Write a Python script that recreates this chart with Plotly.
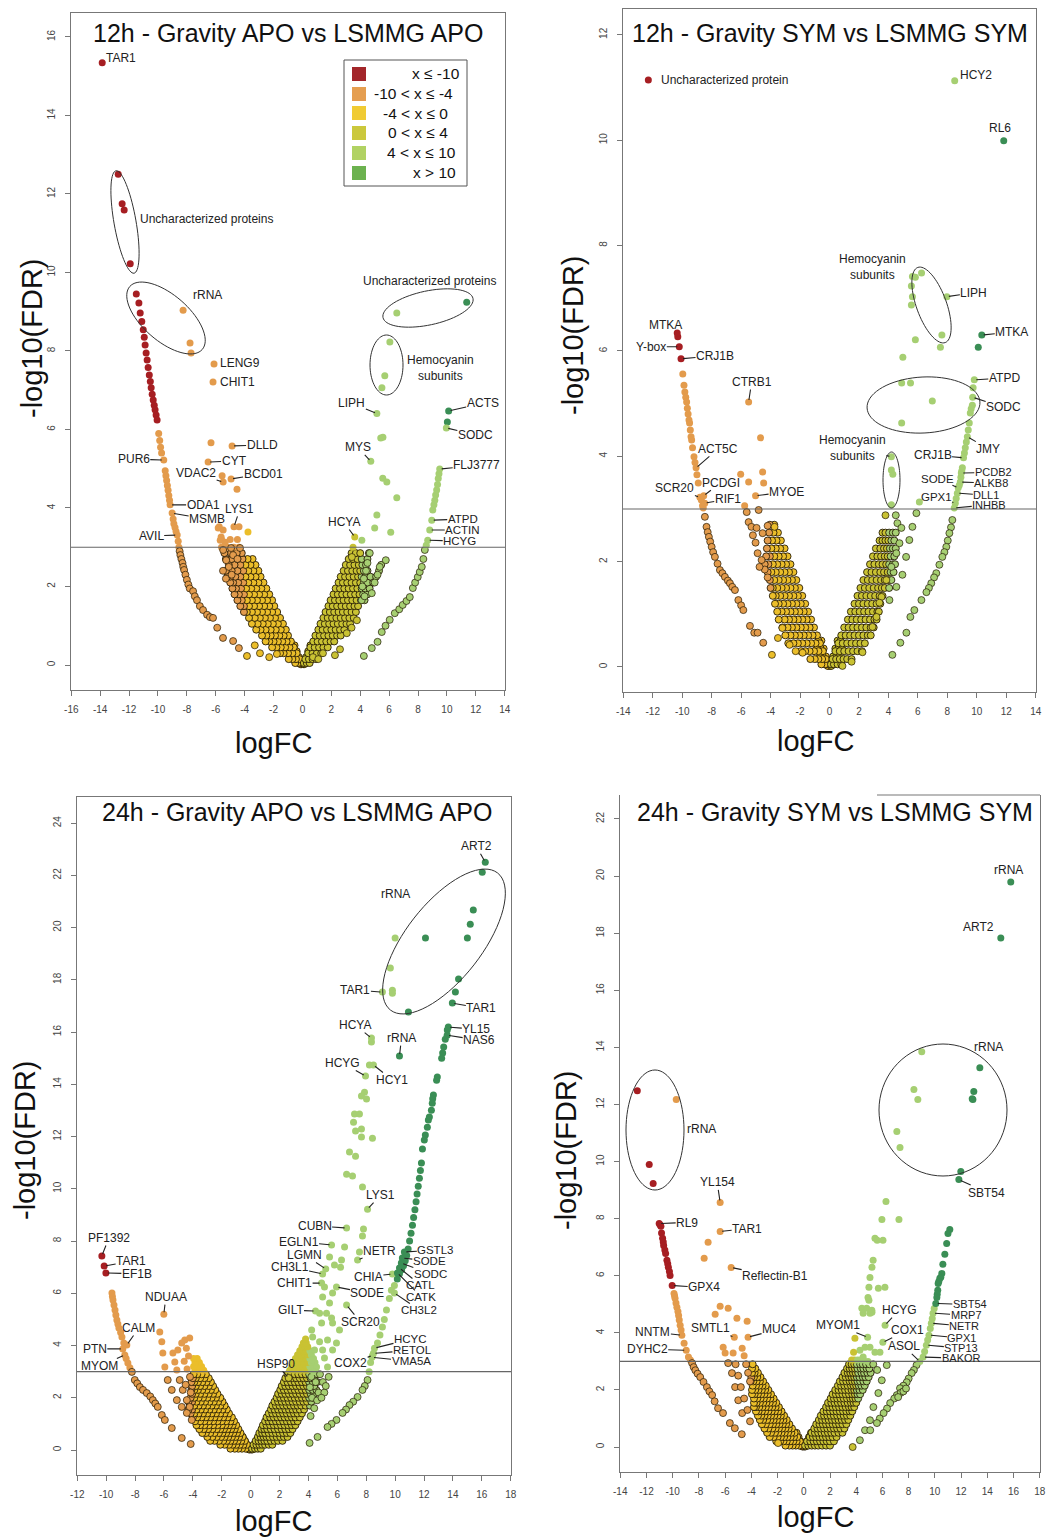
import math
import plotly.graph_objects as go

W, H = 1046, 1537
FONT = "Liberation Sans, Arial, Helvetica, sans-serif"

# ---------------- colour classes (logFC bins) ----------------
BIN_EDGES = [-10, -4, 0, 4, 10]
BIN_COLORS = ["#A61E22", "#E39B4C", "#EBBE2A", "#C9C233", "#A6CF72", "#3A8E55"]
LEGEND_COLORS = ["#A3262A", "#E59E50", "#F0CB33", "#CBC83C", "#B1D263", "#6CB24F"]
LEGEND_TEXT = ["x \u2264 -10", "-10 < x \u2264 -4", "-4 < x \u2264 0", "0 < x \u2264 4", "4 < x \u2264 10", "x > 10"]

# ---------------- tick labels ----------------
xticks_A = [-16, -14, -12, -10, -8, -6, -4, -2, 0, 2, 4, 6, 8, 10, 12, 14]
yticks_A = [0, 2, 4, 6, 8, 10, 12, 14, 16]
xticks_B = [-14, -12, -10, -8, -6, -4, -2, 0, 2, 4, 6, 8, 10, 12, 14]
yticks_B = [0, 2, 4, 6, 8, 10, 12]
xticks_C = [-12, -10, -8, -6, -4, -2, 0, 2, 4, 6, 8, 10, 12, 14, 16, 18]
yticks_C = [0, 2, 4, 6, 8, 10, 12, 14, 16, 18, 20, 22, 24]
xticks_D = [-14, -12, -10, -8, -6, -4, -2, 0, 2, 4, 6, 8, 10, 12, 14, 16, 18]
yticks_D = [0, 2, 4, 6, 8, 10, 12, 14, 16, 18, 20, 22]

titles = ["12h - Gravity APO vs LSMMG APO", "12h - Gravity SYM vs LSMMG SYM",
          "24h - Gravity APO vs LSMMG APO", "24h - Gravity SYM vs LSMMG SYM"]

# dense core at the apex of every volcano (-log10 FDR, [logFC ...])
apex_rows = [
    (0.02, [-0.05, 0.05, -0.12, 0.12]),
    (0.1, [-0.15, -0.3, 0.15, 0.3]),
    (0.2, [-0.25, -0.45, -0.65, 0.25, 0.45, 0.65]),
    (0.35, [-0.4, -0.6, -0.85, 0.4, 0.6, 0.85]),
    (0.5, [-0.55, -0.75, 0.55, 0.75]),
]

# =====================================================================
# Panel A : 12h APO   (rows = (-log10 FDR, [logFC ...]))
# =====================================================================
A_left_rows = [
    (0.05, [-0.1, -0.3, -0.5]),
    (0.15, [-0.2, -0.45, -0.7, -0.95]),
    (0.3, [-0.4, -0.7, -1.0, -1.3, -1.55]),
    (0.45, [-0.6, -0.9, -1.2, -1.5, -1.8, -2.1]),
    (0.6, [-0.8, -1.1, -1.4, -1.7, -2.0, -2.3, -2.55]),
    (0.75, [-1.0, -1.3, -1.6, -1.9, -2.2, -2.5, -2.8]),
    (0.9, [-1.15, -1.5, -1.85, -2.2, -2.55, -2.9, -3.2]),
    (1.05, [-1.35, -1.7, -2.05, -2.4, -2.75, -3.1, -3.5]),
    (1.2, [-1.55, -1.9, -2.25, -2.6, -2.95, -3.3, -3.7]),
    (1.35, [-1.75, -2.1, -2.45, -2.8, -3.15, -3.5, -3.85, -4.05]),
    (1.5, [-1.95, -2.3, -2.65, -3.0, -3.35, -3.7, -4.05, -4.3]),
    (1.65, [-2.1, -2.45, -2.8, -3.15, -3.5, -3.85, -4.2, -4.5]),
    (1.8, [-2.3, -2.65, -3.0, -3.35, -3.7, -4.05, -4.4, -4.7]),
    (1.95, [-2.5, -2.85, -3.2, -3.55, -3.9, -4.25, -4.6, -4.85]),
    (2.1, [-2.7, -3.05, -3.4, -3.75, -4.1, -4.45, -4.8, -5.0]),
    (2.25, [-2.9, -3.25, -3.6, -3.95, -4.3, -4.65, -5.0, -5.2]),
    (2.4, [-3.05, -3.4, -3.75, -4.1, -4.5, -4.9, -5.3]),
    (2.55, [-3.25, -3.6, -3.95, -4.3, -4.7, -5.1]),
    (2.7, [-3.45, -3.8, -4.15, -4.5, -4.9, -5.3]),
    (2.85, [-4.2, -4.55, -4.95, -5.4]),
    (3.0, [-4.4, -4.75, -5.2, -5.6]),
    (3.2, [-4.5, -5.0, -5.6]),
]
A_right_rows = [
    (0.05, [0.1, 0.3, 0.5]),
    (0.15, [0.2, 0.45, 0.7, 0.95]),
    (0.3, [0.4, 0.7, 1.0, 1.3]),
    (0.45, [0.55, 0.85, 1.15, 1.45, 1.75]),
    (0.6, [0.75, 1.05, 1.35, 1.65, 1.95, 2.2]),
    (0.75, [0.9, 1.2, 1.5, 1.8, 2.1, 2.4, 2.65]),
    (0.9, [1.1, 1.4, 1.7, 2.0, 2.3, 2.6, 2.9]),
    (1.05, [1.25, 1.55, 1.85, 2.15, 2.45, 2.75, 3.05, 3.3]),
    (1.2, [1.45, 1.75, 2.05, 2.35, 2.65, 2.95, 3.25, 3.55]),
    (1.35, [1.6, 1.9, 2.2, 2.5, 2.8, 3.1, 3.4, 3.7]),
    (1.5, [1.8, 2.1, 2.4, 2.7, 3.0, 3.3, 3.6, 3.85]),
    (1.65, [1.95, 2.25, 2.55, 2.85, 3.15, 3.45, 3.75, 4.05, 4.3]),
    (1.8, [2.15, 2.45, 2.75, 3.05, 3.35, 3.65, 3.95, 4.2, 4.5]),
    (1.95, [2.3, 2.6, 2.9, 3.2, 3.5, 3.8, 4.1, 4.35, 4.65]),
    (2.1, [2.5, 2.8, 3.1, 3.4, 3.7, 4.0, 4.25, 4.5, 4.9]),
    (2.25, [2.65, 2.95, 3.25, 3.55, 3.85, 4.1, 4.35, 4.7, 5.1]),
    (2.4, [2.85, 3.15, 3.45, 3.75, 4.0, 4.25, 4.5, 5.3]),
    (2.55, [3.0, 3.3, 3.6, 3.9, 4.15, 4.4, 5.45]),
    (2.7, [3.2, 3.5, 3.8, 4.1, 4.5]),
    (2.85, [3.4, 3.7, 4.0, 4.6]),
]
A_points = [
    (-12.75, 12.5), (-12.34, 11.59), (-11.92, 10.22),
    (-11.32, 9.22), (-11.23, 8.97), (-11.12, 8.75), (-11.02, 8.54), (-10.95, 8.35), (-10.89, 8.15),
    (-10.82, 7.95), (-10.75, 7.77), (-10.68, 7.58), (-10.6, 7.39), (-10.53, 7.22), (-10.47, 7.06),
    (-10.4, 6.9), (-10.33, 6.75), (-10.26, 6.62), (-10.2, 6.5), (-10.13, 6.37), (-10.06, 6.24),
    (-9.95, 5.9), (-9.88, 5.72), (-9.82, 5.55), (-9.75, 5.4), (-9.5, 4.95), (-9.45, 4.82), (-9.4, 4.7),
    (-9.35, 4.57), (-9.3, 4.45), (-9.25, 4.32), (-9.2, 4.2), (-8.95, 3.72), (-8.9, 3.6), (-8.82, 3.5),
    (-8.75, 3.4), (-8.6, 3.15), (-8.55, 3.0), (-8.5, 2.9), (-8.45, 2.8), (-8.38, 2.7), (-8.3, 2.6),
    (-8.25, 2.5), (-8.19, 2.42), (-8.1, 2.3), (-8.0, 2.17), (-7.9, 2.05), (-7.8, 1.95), (-7.57, 1.88),
    (-7.45, 1.75), (-7.3, 1.65), (-7.1, 1.5), (-6.88, 1.4), (-6.6, 1.28), (-6.4, 1.22), (-6.19, 1.2),
    (-5.9, 0.95), (-5.5, 0.69), (-4.8, 0.61), (-4.4, 0.43), (-3.84, 0.23),
    (-8.26, 9.04), (-7.78, 8.2), (-7.71, 7.95), (-6.33, 5.66), (-5.56, 4.82), (-4.53, 4.48),
    (-4.39, 3.52), (-3.77, 3.39), (-5.76, 3.52), (-5.63, 3.26),
    (-5.83, 3.49), (-5.49, 3.44), (-5.69, 3.18), (-5.35, 3.13), (-5.49, 2.93), (-4.94, 2.98),
    (-4.32, 2.98), (-5.28, 2.67), (-4.8, 2.8), (-4.5, 2.7), (-5.1, 2.5), (-5.5, 2.4), (-5.3, 2.2), (-4.9, 2.3),
    (-2.94, 0.3), (-1.77, 0.28), (-2.3, 0.2), (-3.3, 0.5),
    (5.7, 7.37), (5.5, 7.06), (6.53, 8.97), (5.42, 5.78), (5.57, 5.8), (5.56, 4.76), (5.84, 4.66),
    (6.53, 4.26), (5.15, 3.82), (5.0, 3.49), (6.11, 3.38), (4.11, 3.18), (5.77, 2.67), (10.03, 6.19),
    (4.25, 0.23), (4.8, 0.43), (5.2, 0.59), (5.49, 0.84), (5.75, 1.0), (6.04, 1.15), (6.39, 1.32),
    (6.7, 1.42), (6.94, 1.53), (7.2, 1.63), (7.43, 1.73), (7.64, 1.96), (7.8, 2.1), (7.98, 2.24),
    (8.12, 2.37), (8.26, 2.5), (8.37, 2.7), (8.47, 2.93), (8.57, 3.05), (9.02, 3.95), (9.1, 4.08),
    (9.16, 4.2), (9.22, 4.33), (9.29, 4.46), (9.35, 4.6), (9.4, 4.75), (9.45, 4.87),
    (4.1, 1.65), (4.3, 1.75), (4.8, 1.83), (5.0, 2.1), (5.2, 2.3), (5.35, 2.5), (4.66, 2.85),
    (4.5, 2.6), (4.4, 2.4), (4.25, 2.2), (4.15, 2.0),
    (0.73, 0.2), (1.1, 0.15), (1.42, 0.3), (2.25, 0.25), (2.6, 0.4), (3.07, 0.81), (3.4, 0.95),
    (3.77, 1.14), (3.42, 2.75), (3.5, 3.0),
]
A_labeled = [
    ("TAR1", -13.86, 15.34), ("Uncharacterized proteins", -12.48, 11.75), ("rRNA", -11.5, 9.45),
    ("LENG9", -6.12, 7.67), ("CHIT1", -6.19, 7.21), ("DLLD", -4.87, 5.58), ("CYT", -6.53, 5.17),
    ("VDAC2", -5.49, 4.66), ("BCD01", -4.94, 4.74), ("PUR6", -9.6, 5.22), ("ODA1", -9.16, 4.08),
    ("MSMB", -9.02, 3.87), ("AVIL", -8.67, 3.31), ("LYS1", -4.74, 3.52),
    ("Uncharacterized proteins", 11.37, 9.24), ("Hemocyanin<br>subunits", 6.05, 8.23),
    ("LIPH", 5.15, 6.41), ("MYS", 4.73, 5.19), ("ACTS", 10.12, 6.47), ("SODC", 9.96, 6.04),
    ("FLJ3777", 9.5, 4.99), ("ATPD", 8.95, 3.69), ("ACTIN", 8.81, 3.44), ("HCYG", 8.67, 3.18),
    ("HCYA", 3.62, 3.26),
]
# label placement: (pixel offset of text centre x, y, leader line?, [font size])
A_label_style = [
    (19, -5, False), (84, 15, False), (71, 1, False), (26, -1, False), (24, 0, False),
    (30, -1, True), (26, -1, True), (-27, -9, True), (32, -5, True), (-30, -1, True),
    (33, 0, True), (35, 6, True), (-26, 1, True), (6, -18, True),
    (-37, -21, False), (51, 26, False), (-25, -10, True), (-13, -14, True), (34, -8, True),
    (29, 7, True), (37, -4, True), (31, -1, True, 11.5), (33, 0, True, 11.5), (32, 1, True, 11.5),
    (-11, -15, True),
]

# =====================================================================
# Panel B : 12h SYM
# =====================================================================
B_left_rows = [
    (0.05, [-0.1, -0.3, -0.55]),
    (0.15, [-0.25, -0.5, -0.75, -1.0, -1.3]),
    (0.3, [-0.45, -0.75, -1.05, -1.35, -1.65, -1.95]),
    (0.45, [-0.65, -0.95, -1.25, -1.55, -1.85, -2.15, -2.45, -2.8]),
    (0.6, [-0.85, -1.15, -1.45, -1.75, -2.05, -2.35, -2.65, -3.0]),
    (0.75, [-1.05, -1.35, -1.65, -1.95, -2.25, -2.55, -2.85, -3.2]),
    (0.9, [-1.25, -1.55, -1.85, -2.15, -2.45, -2.75, -3.05, -3.45]),
    (1.05, [-1.45, -1.75, -2.05, -2.35, -2.65, -2.95, -3.25, -3.55]),
    (1.2, [-1.65, -1.95, -2.25, -2.55, -2.85, -3.15, -3.45, -3.7]),
    (1.35, [-1.85, -2.15, -2.45, -2.75, -3.05, -3.35, -3.65, -3.85]),
    (1.5, [-2.05, -2.35, -2.65, -2.95, -3.25, -3.55, -3.85, -4.0]),
    (1.65, [-2.25, -2.55, -2.85, -3.15, -3.45, -3.75, -4.05]),
    (1.8, [-2.45, -2.75, -3.05, -3.35, -3.65, -3.95, -4.2]),
    (1.95, [-2.65, -2.95, -3.25, -3.55, -3.85, -4.15, -4.4]),
    (2.1, [-2.85, -3.15, -3.45, -3.75, -4.05, -4.3]),
    (2.25, [-3.05, -3.35, -3.65, -3.95, -4.25]),
    (2.4, [-3.3, -3.6, -3.9, -4.2]),
    (2.55, [-3.5, -3.8, -4.1]),
    (2.7, [-3.75, -4.05]),
]
B_right_rows = [
    (0.05, [0.1, 0.3, 0.55, 0.8]),
    (0.15, [0.2, 0.45, 0.7, 0.95, 1.2, 1.5]),
    (0.3, [0.4, 0.7, 1.0, 1.3, 1.6, 1.9, 2.2]),
    (0.45, [0.6, 0.9, 1.2, 1.5, 1.8, 2.1, 2.4]),
    (0.6, [0.8, 1.1, 1.4, 1.7, 2.0, 2.3, 2.6, 2.8]),
    (0.75, [1.0, 1.3, 1.6, 1.9, 2.2, 2.5, 2.8, 3.0]),
    (0.9, [1.25, 1.55, 1.85, 2.15, 2.45, 2.75, 3.05, 3.2]),
    (1.05, [1.45, 1.75, 2.05, 2.35, 2.65, 2.95, 3.25, 3.35]),
    (1.2, [1.7, 2.0, 2.3, 2.6, 2.9, 3.2, 3.45]),
    (1.35, [1.9, 2.2, 2.5, 2.8, 3.1, 3.4, 3.6]),
    (1.5, [2.1, 2.4, 2.7, 3.0, 3.3, 3.55, 3.75, 4.05]),
    (1.65, [2.3, 2.6, 2.9, 3.2, 3.5, 3.75, 4.0, 4.2]),
    (1.8, [2.55, 2.85, 3.15, 3.45, 3.7, 3.95, 4.15, 4.35]),
    (1.95, [2.75, 3.05, 3.35, 3.6, 3.85, 4.05, 4.3, 4.45]),
    (2.1, [2.95, 3.25, 3.5, 3.75, 3.95, 4.15, 4.4]),
    (2.25, [3.15, 3.45, 3.7, 3.9, 4.1, 4.3, 4.5]),
    (2.4, [3.4, 3.6, 3.8, 4.0, 4.2, 4.4]),
    (2.55, [3.6, 3.8, 4.05, 4.3, 4.5]),
]
B_points = [
    (-10.3, 6.27), (-9.96, 5.56), (-9.88, 5.35), (-9.82, 5.22), (-9.76, 5.12), (-9.7, 5.03), (-9.65, 4.91),
    (-9.6, 4.8), (-9.54, 4.69), (-9.5, 4.63), (-9.45, 4.5), (-9.4, 4.37), (-9.36, 4.31), (-9.3, 4.16),
    (-9.2, 3.99), (-9.13, 3.88), (-9.0, 3.65), (-8.91, 3.49), (-8.7, 3.17), (-8.62, 3.06), (-8.57, 3.02),
    (-8.46, 2.85), (-8.35, 2.66), (-8.27, 2.56), (-8.19, 2.47), (-8.1, 2.38), (-8.0, 2.28), (-7.9, 2.18),
    (-7.78, 2.09), (-7.6, 1.96), (-7.44, 1.84), (-7.27, 1.78), (-7.1, 1.71), (-6.9, 1.64), (-6.76, 1.59),
    (-6.6, 1.52), (-6.42, 1.46), (-6.19, 1.27), (-6.0, 1.17), (-5.85, 1.08), (-5.4, 0.78), (-5.11, 0.65),
    (-4.88, 0.65), (-4.5, 0.46), (-3.91, 0.23),
    (-4.68, 4.35), (-6.03, 3.66), (-4.54, 3.7), (-5.49, 3.51), (-4.47, 3.49), (-5.76, 3.06), (-4.81, 2.98),
    (-5.62, 2.94), (-5.49, 2.75), (-5.3, 2.66), (-5.2, 2.5), (-4.95, 2.64), (-4.54, 2.54), (-4.2, 2.68),
    (-3.73, 2.66), (-5.02, 2.36), (-4.88, 2.16), (-4.61, 2.03), (-4.4, 1.85), (-4.2, 1.7), (-4.75, 1.9),
    (-3.2, 0.74), (-2.71, 0.42), (-1.83, 0.27), (-3.5, 0.55), (-2.3, 0.3),
    (5.83, 7.4), (6.25, 7.48), (5.56, 7.23), (5.63, 7.03), (5.56, 6.87), (7.63, 6.3), (5.83, 6.21),
    (7.53, 6.07), (10.1, 6.07), (4.98, 5.88), (4.9, 5.39), (5.5, 5.39), (6.98, 5.05), (4.9, 4.63),
    (4.2, 3.74), (4.3, 3.66), (4.2, 3.08), (4.5, 2.88), (4.61, 2.73), (3.8, 2.88),
    (4.95, 1.75), (5.2, 2.09), (5.42, 2.41), (5.63, 2.66), (5.9, 2.92), (6.1, 3.13), (4.54, 1.52),
    (4.07, 1.27), (3.19, 0.95), (3.53, 1.33), (3.86, 1.65), (4.2, 1.9), (4.54, 2.16), (4.75, 2.35), (4.88, 2.64),
    (9.75, 5.3), (9.7, 4.97), (9.62, 4.9), (9.56, 4.82), (9.49, 4.63), (9.42, 4.5), (9.29, 4.27), (9.22, 4.16),
    (9.16, 4.06), (9.02, 3.78), (8.98, 3.72), (8.92, 3.6), (8.81, 3.45), (8.6, 3.2), (8.34, 2.79),
    (8.25, 2.65), (8.14, 2.54), (8.03, 2.4), (7.93, 2.28), (7.8, 2.18), (7.66, 2.09), (7.46, 1.94),
    (7.25, 1.78), (7.1, 1.7), (6.91, 1.59), (6.75, 1.5), (6.58, 1.42), (6.24, 1.27), (5.76, 1.08),
    (5.49, 0.95), (5.22, 0.65), (4.81, 0.46), (4.27, 0.23),
    (2.24, 0.28), (2.92, 0.76), (3.39, 1.22), (1.5, 0.1), (0.88, 0.02),
]
B_labeled = [
    ("Uncharacterized protein", -12.3, 11.14), ("HCY2", 8.5, 11.13), ("RL6", 11.83, 9.99),
    ("Hemocyanin<br>subunits", 5.63, 7.41), ("LIPH", 7.97, 7.03), ("MTKA", 10.34, 6.3),
    ("ATPD", 9.83, 5.45), ("SODC", 9.72, 5.12), ("JMY", 9.36, 4.37), ("CRJ1B", 9.1, 3.97),
    ("PCDB2", 8.95, 3.68), ("ALKB8", 8.88, 3.51), ("SODE", 8.74, 3.4), ("DLL1", 8.68, 3.3),
    ("GPX1", 8.54, 3.11), ("INHBB", 8.47, 3.02), ("Hemocyanin<br>subunits", 4.2, 3.99),
    ("MTKA", -10.34, 6.34), ("Y-box", -10.2, 6.08), ("CRJ1B", -10.08, 5.85), ("CTRB1", -5.49, 5.03),
    ("ACT5C", -9.06, 3.78), ("SCR20", -8.8, 3.22), ("PCDGI", -8.54, 3.25), ("RIF1", -8.47, 3.11),
    ("MYOE", -5.02, 3.25),
]
B_label_style = [
    (76, 0, False), (21, -6, False), (-4, -13, False), (-40, -10, False), (27, -4, True),
    (30, -3, True), (30, -2, True), (31, 10, True), (21, 12, True), (-31, -3, True),
    (32, -1, True, 11), (31, 1, True, 11), (-21, -9, True, 11.5), (29, 2, True, 11), (-19, -6, True, 11.5),
    (35, -3, True, 11),
    (-39, -9, True), (-12, -8, True), (-28, 0, True), (34, -3, True), (3, -20, True),
    (22, -19, True), (-25, -9, True), (17, -13, True), (23, -4, True), (31, -4, True),
]

# =====================================================================
# Panel C : 24h APO
# =====================================================================
C_left_rows = [
    (0.05, [-0.1, -0.35, -0.6, -0.85, -1.1, -1.4]),
    (0.2, [-0.25, -0.5, -0.75, -1.0, -1.25, -1.5, -1.8, -2.1]),
    (0.35, [-0.4, -0.65, -0.9, -1.15, -1.4, -1.65, -1.9, -2.2, -2.5, -2.8]),
    (0.5, [-0.55, -0.8, -1.05, -1.3, -1.55, -1.8, -2.05, -2.35, -2.65, -3.0]),
    (0.65, [-0.7, -0.95, -1.2, -1.45, -1.7, -1.95, -2.2, -2.5, -2.8, -3.1, -3.35]),
    (0.8, [-0.85, -1.1, -1.35, -1.6, -1.85, -2.1, -2.35, -2.65, -2.95, -3.25, -3.55]),
    (0.95, [-1.0, -1.25, -1.5, -1.75, -2.0, -2.3, -2.6, -2.9, -3.2, -3.5, -3.75]),
    (1.1, [-1.15, -1.4, -1.7, -2.0, -2.3, -2.6, -2.9, -3.2, -3.5, -3.85]),
    (1.25, [-1.3, -1.6, -1.9, -2.2, -2.5, -2.8, -3.1, -3.4, -3.7, -4.0]),
    (1.4, [-1.5, -1.8, -2.1, -2.4, -2.7, -3.0, -3.3, -3.6, -3.9, -4.15]),
    (1.55, [-1.65, -1.95, -2.25, -2.55, -2.85, -3.15, -3.45, -3.75, -4.05, -4.3]),
    (1.7, [-1.8, -2.1, -2.4, -2.7, -3.0, -3.3, -3.6, -3.9, -4.2]),
    (1.85, [-1.95, -2.25, -2.55, -2.85, -3.15, -3.45, -3.75, -4.05, -4.3]),
    (2.0, [-2.1, -2.4, -2.7, -3.0, -3.3, -3.6, -3.9, -4.15]),
    (2.15, [-2.3, -2.6, -2.9, -3.2, -3.5, -3.8, -4.05]),
    (2.3, [-2.45, -2.75, -3.05, -3.35, -3.65, -3.9, -4.1]),
    (2.45, [-2.6, -2.9, -3.2, -3.5, -3.8, -4.05]),
    (2.6, [-2.75, -3.05, -3.35, -3.65, -3.9, -4.1]),
    (2.75, [-2.9, -3.2, -3.5, -3.8, -4.0]),
    (2.9, [-3.1, -3.4, -3.7, -3.95]),
    (3.05, [-3.25, -3.55, -3.85]),
    (3.2, [-3.4, -3.7, -3.95]),
    (3.35, [-3.55, -3.85]),
    (3.5, [-3.7, -3.95]),
]
C_right_rows = [
    (0.05, [0.1, 0.3, 0.5, 0.7]),
    (0.2, [0.2, 0.4, 0.6, 0.8, 1.0, 1.25, 1.5]),
    (0.35, [0.35, 0.55, 0.75, 0.95, 1.15, 1.4, 1.65, 1.9, 2.2]),
    (0.5, [0.5, 0.7, 0.9, 1.1, 1.3, 1.55, 1.8, 2.05, 2.3, 2.55]),
    (0.65, [0.6, 0.8, 1.0, 1.25, 1.5, 1.75, 2.0, 2.25, 2.5, 2.75]),
    (0.8, [0.75, 0.95, 1.15, 1.4, 1.65, 1.9, 2.15, 2.4, 2.65, 2.9]),
    (0.95, [0.85, 1.1, 1.35, 1.6, 1.85, 2.1, 2.35, 2.6, 2.85, 3.1]),
    (1.1, [1.0, 1.25, 1.5, 1.75, 2.0, 2.25, 2.5, 2.75, 3.0, 3.25]),
    (1.25, [1.1, 1.35, 1.6, 1.85, 2.1, 2.35, 2.6, 2.85, 3.1, 3.4]),
    (1.4, [1.25, 1.5, 1.75, 2.0, 2.25, 2.5, 2.75, 3.0, 3.25, 3.55]),
    (1.55, [1.4, 1.65, 1.9, 2.15, 2.4, 2.65, 2.9, 3.15, 3.4, 3.7]),
    (1.7, [1.5, 1.75, 2.0, 2.25, 2.5, 2.75, 3.0, 3.25, 3.5, 3.8, 4.1]),
    (1.85, [1.65, 1.9, 2.15, 2.4, 2.65, 2.9, 3.15, 3.4, 3.65, 3.9, 4.2]),
    (2.0, [1.8, 2.05, 2.3, 2.55, 2.8, 3.05, 3.3, 3.55, 3.8, 4.05, 4.3]),
    (2.15, [1.9, 2.15, 2.4, 2.65, 2.9, 3.15, 3.4, 3.65, 3.9, 4.15, 4.4]),
    (2.3, [2.05, 2.3, 2.55, 2.8, 3.05, 3.3, 3.55, 3.8, 4.05, 4.3, 4.55]),
    (2.45, [2.15, 2.4, 2.65, 2.9, 3.15, 3.4, 3.65, 3.9, 4.15, 4.4]),
    (2.6, [2.3, 2.55, 2.8, 3.05, 3.3, 3.55, 3.8, 4.05, 4.3, 4.6]),
    (2.75, [2.4, 2.65, 2.9, 3.15, 3.4, 3.65, 3.9, 4.15, 4.4]),
    (2.9, [2.55, 2.8, 3.05, 3.3, 3.55, 3.8, 4.05, 4.3, 4.6]),
    (3.05, [2.7, 2.95, 3.2, 3.45, 3.7, 3.95, 4.2, 4.45]),
    (3.2, [2.85, 3.1, 3.35, 3.6, 3.85, 4.1, 4.35]),
    (3.35, [2.95, 3.2, 3.45, 3.7, 3.95, 4.2, 4.45]),
    (3.5, [3.1, 3.35, 3.6, 3.85, 4.1, 4.35]),
    (3.65, [3.25, 3.5, 3.75, 3.95, 4.2]),
    (3.8, [3.4, 3.65, 3.85, 4.1]),
    (3.95, [3.55, 3.75, 3.95]),
    (4.1, [3.65, 3.85]),
    (4.25, [3.8]),
]
C_points = [
    (16.03, 22.12), (15.41, 20.67), (15.2, 20.13), (15.0, 19.6), (12.1, 19.6), (14.39, 18.03),
    (14.17, 17.53), (10.92, 16.77), (9.67, 18.45), (9.81, 17.6), (9.81, 17.49),
    (13.61, 16.08), (13.47, 15.73), (13.36, 15.43), (13.29, 15.2), (13.22, 15.0), (12.92, 14.28),
    (12.87, 14.16), (12.65, 13.59), (12.6, 13.45), (12.57, 13.28), (12.51, 13.01), (12.37, 12.75),
    (12.3, 12.63), (12.23, 12.36), (12.09, 12.06), (12.02, 11.87), (11.89, 11.52), (11.82, 10.99),
    (11.75, 10.7), (11.68, 10.4), (11.6, 10.1), (11.52, 9.8), (11.45, 9.5), (11.37, 9.2), (11.28, 8.9),
    (11.2, 8.6), (11.1, 8.3), (11.0, 8.0), (10.9, 7.7), (10.8, 7.45), (10.7, 7.25), (10.58, 7.05),
    (10.45, 6.9), (10.3, 6.75), (10.15, 6.55),
    (9.95, 6.3), (9.74, 6.12), (9.6, 5.8), (9.4, 5.36), (9.25, 5.0), (9.12, 4.71), (8.95, 4.4),
    (8.78, 4.1), (8.3, 3.35), (8.2, 3.0), (8.09, 2.68), (7.9, 2.45), (7.74, 2.3), (7.4, 2.03),
    (7.1, 1.85), (6.84, 1.72), (6.6, 1.55), (6.36, 1.42), (5.94, 1.15), (5.6, 1.0), (5.32, 0.88),
    (4.63, 0.5), (4.08, 0.27),
    (8.36, 15.62), (8.22, 14.74), (7.88, 13.7), (7.67, 13.55), (8.02, 13.44), (7.19, 12.86), (7.53, 12.86),
    (7.12, 12.55), (7.67, 12.29), (7.26, 12.21), (7.67, 11.98), (8.43, 11.94), (6.84, 11.41), (7.26, 11.25),
    (6.64, 10.56), (7.05, 10.49), (7.74, 10.07), (7.81, 8.46), (7.74, 8.19), (6.5, 7.77), (7.53, 7.58),
    (5.46, 7.39), (6.29, 7.27), (5.8, 7.08), (6.22, 7.0), (5.11, 6.24), (5.67, 6.01), (4.98, 5.86),
    (5.46, 5.63), (4.77, 5.24), (5.25, 5.24), (5.6, 5.05), (4.91, 4.86), (5.67, 4.86), (4.22, 4.59),
    (6.15, 4.59), (4.29, 4.33), (4.77, 4.14), (5.32, 4.21), (5.94, 4.1), (4.42, 3.83), (4.98, 3.83),
    (5.67, 3.83), (4.29, 3.45), (5.11, 3.52), (4.56, 3.18), (5.32, 3.18), (4.1, 2.4), (4.2, 2.8),
    (4.35, 3.0), (4.5, 2.6), (4.7, 2.2), (4.25, 2.0), (4.8, 2.9), (5.0, 2.6), (5.1, 2.2),
    (4.4, 1.6), (4.6, 1.9), (4.9, 2.0), (5.2, 2.45), (5.4, 2.8), (4.15, 1.3),
    (-9.6, 6.01), (-9.57, 5.88), (-9.53, 5.74), (-9.46, 5.55), (-9.39, 5.36), (-9.33, 5.17), (-9.26, 4.98),
    (-9.19, 4.82), (-9.12, 4.67), (-9.0, 4.5), (-8.91, 4.33), (-8.78, 4.1), (-8.62, 3.5), (-8.5, 3.33),
    (-8.36, 3.15), (-8.22, 2.99), (-8.02, 2.68), (-7.85, 2.55), (-7.67, 2.41), (-7.45, 2.3), (-7.19, 2.18),
    (-6.95, 2.05), (-6.77, 1.91), (-6.6, 1.78), (-6.43, 1.65), (-6.15, 1.34), (-5.94, 1.15), (-5.46, 0.84),
    (-4.77, 0.46), (-4.15, 0.23),
    (-6.29, 4.52), (-6.15, 4.14), (-6.08, 3.71), (-5.94, 3.18), (-5.74, 2.68), (-5.46, 2.3), (-5.11, 1.91),
    (-4.77, 1.65), (-4.42, 1.42), (-4.08, 1.15), (-5.38, 3.71), (-5.25, 3.37), (-5.11, 3.06), (-4.91, 2.68),
    (-4.7, 2.3), (-4.42, 1.91), (-4.22, 1.65), (-5.04, 3.83), (-4.56, 4.21), (-4.22, 4.29), (-4.77, 4.1),
    (-4.45, 3.9), (-4.3, 3.6), (-4.6, 3.4), (-4.4, 3.1), (-4.2, 2.8), (-4.5, 2.5), (-4.15, 2.2),
]
C_labeled = [
    ("ART2", 16.24, 22.5), ("rRNA", 10.0, 19.6), ("TAR1", 9.12, 17.53), ("TAR1", 13.96, 17.11),
    ("YL15", 13.68, 16.19), ("NAS6", 13.6, 15.88), ("HCYA", 8.36, 15.77), ("rRNA", 10.3, 15.08),
    ("HCYG", 7.95, 14.32), ("HCY1", 8.5, 14.74), ("LYS1", 8.09, 9.22), ("CUBN", 6.64, 8.5),
    ("EGLN1", 5.6, 7.85), ("LGMN", 5.2, 6.93), ("CH3L1", 4.98, 6.74), ("CHIT1", 4.91, 6.39),
    ("SODE", 5.94, 6.24), ("GILT", 4.49, 5.32), ("SCR20", 6.64, 5.55), ("NETR", 7.4, 7.27),
    ("CHIA", 9.81, 6.74), ("GSTL3", 10.64, 7.58), ("SODE", 10.5, 7.35), ("SODC", 10.43, 7.16),
    ("CATL", 10.3, 6.97), ("CATK", 10.16, 6.78), ("CH3L2", 9.95, 6.01), ("HCYC", 8.57, 3.9),
    ("RETOL", 8.5, 3.7), ("VMA5A", 8.4, 3.55), ("COX2", 8.44, 3.62), ("HSP90", 2.63, 2.76),
    ("PF1392", -10.3, 7.43), ("TAR1", -10.14, 7.04), ("EF1B", -10.02, 6.78), ("NDUAA", -6.01, 5.2),
    ("CALM", -8.57, 4.02), ("PTN", -8.85, 3.87), ("MYOM", -8.71, 3.64),
]
C_label_style = [
    (-9, -16, True), (0, -44, False), (-27, -2, True), (29, 5, True), (28, 2, True), (32, 5, True),
    (-16, -13, True), (2, -18, True), (-23, -13, True), (19, 15, True), (13, -14, True),
    (-32, -2, True), (-33, -3, True), (-21, -14, True), (-33, -7, True), (-27, 0, True),
    (31, 6, True), (-25, -1, True), (14, 17, True), (22, -9, True), (-24, 3, True),
    (31, -2, True, 11.5), (27, 3, True, 11.5), (29, 11, True, 11.5), (21, 17, True, 11.5),
    (24, 24, True, 11.5), (25, 17, True, 11.5),
    (36, -9, True, 11.5), (39, -3, True, 11.5), (39, 4, True, 11.5), (-22, 8, True), (-13, -14, True),
    (7, -18, True), (27, -5, True), (31, 1, True), (2, -17, True), (12, -17, True),
    (-28, 0, True), (-25, 11, True),
]

# =====================================================================
# Panel D : 24h SYM
# =====================================================================
D_left_rows = [
    (0.05, [-0.1, -0.35, -0.6, -0.85, -1.1, -1.4]),
    (0.2, [-0.3, -0.55, -0.8, -1.05, -1.3, -1.55, -1.8, -2.1]),
    (0.35, [-0.5, -0.75, -1.0, -1.25, -1.5, -1.75, -2.0, -2.3, -2.6]),
    (0.5, [-0.7, -0.95, -1.2, -1.45, -1.7, -1.95, -2.2, -2.5, -2.8]),
    (0.65, [-0.9, -1.15, -1.4, -1.65, -1.9, -2.15, -2.4, -2.7, -3.0]),
    (0.8, [-1.1, -1.35, -1.6, -1.85, -2.1, -2.35, -2.6, -2.9, -3.2]),
    (0.95, [-1.3, -1.55, -1.8, -2.05, -2.3, -2.55, -2.8, -3.1, -3.35]),
    (1.1, [-1.5, -1.75, -2.0, -2.25, -2.5, -2.75, -3.0, -3.25, -3.5]),
    (1.25, [-1.7, -1.95, -2.2, -2.45, -2.7, -2.95, -3.2, -3.45, -3.65]),
    (1.4, [-1.9, -2.15, -2.4, -2.65, -2.9, -3.15, -3.4, -3.65, -3.8]),
    (1.55, [-2.1, -2.35, -2.6, -2.85, -3.1, -3.35, -3.6, -3.8]),
    (1.7, [-2.3, -2.55, -2.8, -3.05, -3.3, -3.55, -3.8]),
    (1.85, [-2.5, -2.75, -3.0, -3.25, -3.5, -3.75, -3.95]),
    (2.0, [-2.7, -2.95, -3.2, -3.45, -3.7, -3.95]),
    (2.15, [-2.9, -3.15, -3.4, -3.65, -3.9]),
    (2.3, [-3.1, -3.35, -3.6, -3.85, -4.05]),
    (2.45, [-3.3, -3.55, -3.8, -4.0]),
    (2.6, [-3.5, -3.75, -3.95]),
    (2.75, [-3.7, -3.95]),
    (2.9, [-3.9]),
]
D_right_rows = [
    (0.05, [0.1, 0.35, 0.6, 0.85, 1.1, 1.4, 1.7, 2.0]),
    (0.2, [0.25, 0.5, 0.75, 1.0, 1.25, 1.5, 1.75, 2.0, 2.3]),
    (0.35, [0.45, 0.7, 0.95, 1.2, 1.45, 1.7, 1.95, 2.2, 2.5]),
    (0.5, [0.6, 0.85, 1.1, 1.35, 1.6, 1.85, 2.1, 2.35, 2.65, 2.95]),
    (0.65, [0.8, 1.05, 1.3, 1.55, 1.8, 2.05, 2.3, 2.55, 2.8, 3.1]),
    (0.8, [0.95, 1.2, 1.45, 1.7, 1.95, 2.2, 2.45, 2.7, 2.95, 3.25]),
    (0.95, [1.15, 1.4, 1.65, 1.9, 2.15, 2.4, 2.65, 2.9, 3.15, 3.4]),
    (1.1, [1.3, 1.55, 1.8, 2.05, 2.3, 2.55, 2.8, 3.05, 3.3, 3.55]),
    (1.25, [1.5, 1.75, 2.0, 2.25, 2.5, 2.75, 3.0, 3.25, 3.5, 3.7]),
    (1.4, [1.7, 1.95, 2.2, 2.45, 2.7, 2.95, 3.2, 3.45, 3.65, 3.85]),
    (1.55, [1.85, 2.1, 2.35, 2.6, 2.85, 3.1, 3.35, 3.6, 3.8, 4.0]),
    (1.7, [2.05, 2.3, 2.55, 2.8, 3.05, 3.3, 3.55, 3.75, 3.95, 4.15]),
    (1.85, [2.2, 2.45, 2.7, 2.95, 3.2, 3.45, 3.7, 3.9, 4.1, 4.3]),
    (2.0, [2.4, 2.65, 2.9, 3.15, 3.4, 3.65, 3.85, 4.05, 4.25, 4.5]),
    (2.15, [2.6, 2.85, 3.1, 3.35, 3.6, 3.8, 4.0, 4.2, 4.4, 4.65]),
    (2.3, [2.75, 3.0, 3.25, 3.5, 3.7, 3.9, 4.1, 4.3, 4.55, 4.8]),
    (2.45, [2.95, 3.2, 3.45, 3.65, 3.85, 4.05, 4.25, 4.5, 4.7, 4.95]),
    (2.6, [3.1, 3.35, 3.55, 3.75, 3.95, 4.15, 4.4, 4.6, 4.85, 5.1]),
    (2.75, [3.3, 3.5, 3.7, 3.9, 4.1, 4.35, 4.55, 4.8, 5.0]),
    (2.9, [3.45, 3.65, 3.85, 4.05, 4.3, 4.5, 4.75, 5.0]),
    (3.05, [3.65, 3.85, 4.1, 4.3, 4.55]),
]
D_points = [
    (12.97, 12.45), (12.9, 12.17), (12.85, 12.2), (11.98, 9.65),
    (9.0, 13.85), (8.4, 12.52), (8.7, 12.17), (7.1, 11.05), (7.34, 10.49),
    (-12.7, 12.48), (-11.79, 9.9), (-11.49, 9.23), (-7.3, 7.17), (-7.6, 6.61),
    (-10.95, 7.78), (-10.9, 7.73), (-10.85, 7.5), (-10.77, 7.31), (-10.72, 7.18), (-10.69, 7.06),
    (-10.6, 6.9), (-10.54, 6.78), (-10.44, 6.54), (-10.38, 6.42), (-10.33, 6.3), (-10.25, 6.15), (-10.2, 6.01),
    (-9.9, 5.38), (-9.86, 5.3), (-9.82, 5.21), (-9.75, 5.05), (-9.68, 4.9), (-9.6, 4.75), (-9.55, 4.61),
    (-9.5, 4.45), (-9.43, 4.27), (-9.36, 4.1), (-9.13, 3.64), (-8.8, 3.15), (-8.65, 3.05), (-8.52, 2.94),
    (-8.4, 2.8), (-8.27, 2.69), (-8.1, 2.57), (-7.9, 2.45), (-7.65, 2.28), (-7.39, 2.1), (-7.2, 1.95),
    (-6.99, 1.82), (-6.8, 1.6), (-6.54, 1.36), (-6.16, 1.19), (-5.64, 0.84), (-5.26, 0.66), (-4.73, 0.45),
    (-6.76, 4.65), (-6.38, 4.93), (-5.77, 4.86), (-5.1, 4.51), (-4.32, 4.41),
    (-6.15, 3.5), (-6.0, 3.29), (-5.77, 2.94), (-5.48, 2.59), (-5.24, 2.1), (-5.0, 1.64), (-4.7, 1.19),
    (-5.39, 3.29), (-5.2, 2.9), (-5.0, 2.5), (-4.8, 2.1), (-4.55, 1.7), (-4.3, 1.3), (-4.1, 0.9),
    (-4.7, 3.46), (-4.55, 3.2), (-4.4, 2.9), (-4.25, 2.6), (-4.1, 2.3), (-1.96, 0.14),
    (6.27, 8.6), (5.96, 7.97), (7.26, 7.97), (5.43, 7.31), (5.6, 7.24), (6.04, 7.24), (5.29, 6.54),
    (5.2, 6.3), (5.05, 5.94), (4.97, 5.6), (5.69, 5.56), (6.19, 5.6), (4.9, 5.24), (4.97, 5.14),
    (5.2, 4.72), (4.43, 4.86), (4.8, 4.86), (5.19, 4.79), (4.53, 4.69), (5.05, 4.69), (4.28, 3.39),
    (4.67, 3.5), (5.05, 3.5), (5.43, 3.32), (5.81, 3.32), (4.53, 3.15), (4.9, 3.0), (5.3, 2.9), (5.6, 2.7),
    (3.9, 3.81), (3.8, 3.32),
    (4.67, 0.59), (5.05, 0.94), (5.31, 1.4), (5.69, 1.89), (5.95, 2.34), (6.33, 2.87),
    (11.14, 7.62), (11.0, 7.48), (10.9, 7.13), (10.76, 6.75), (10.61, 6.4), (10.53, 6.08), (10.45, 5.95),
    (10.38, 5.91), (10.3, 5.8), (10.25, 5.73), (10.22, 5.49), (10.18, 5.35), (10.15, 5.24), (9.95, 4.85),
    (9.8, 4.5), (9.65, 4.15), (9.45, 3.75), (9.22, 3.35), (8.6, 2.87), (8.4, 2.7), (8.23, 2.59),
    (8.0, 2.4), (7.85, 2.27), (7.6, 2.15), (7.34, 2.06), (7.1, 1.82), (6.9, 1.7), (6.59, 1.54),
    (6.35, 1.35), (6.09, 1.19), (5.8, 1.0), (5.58, 0.84), (5.07, 0.59), (4.28, 0.24), (3.73, 0.0),
    (7.4, 1.9), (7.6, 1.95), (7.8, 2.05), (7.2, 1.75),
]
D_labeled = [
    ("rRNA", 15.79, 19.79), ("ART2", 15.03, 17.83), ("rRNA", 13.43, 13.29), ("rRNA", -9.73, 12.17),
    ("SBT54", 11.83, 9.37), ("YL154", -6.38, 8.57), ("TAR1", -6.38, 7.55), ("Reflectin-B1", -5.54, 6.29),
    ("RL9", -11.03, 7.83), ("GPX4", -10.04, 5.66), ("NNTM", -9.3, 3.92), ("DYHC2", -8.97, 3.39),
    ("SMTL1", -5.3, 3.85), ("MUC4", -4.25, 3.85), ("MYOM1", 4.87, 3.85), ("HCYG", 6.2, 4.27),
    ("COX1", 6.03, 3.67), ("ASOL", 8.85, 3.0), ("SBT54", 10.07, 5.03), ("MRP7", 9.86, 4.69),
    ("NETR", 9.73, 4.34), ("GPX1", 9.55, 3.92), ("STP13", 9.35, 3.57), ("BAKOR", 9.1, 3.15),
]
D_label_style = [
    (-2, -12, False), (-22, -11, False), (9, -21, False), (25, 29, False), (28, 13, True),
    (-3, -20, True), (27, -3, True), (44, 9, True), (28, -1, True), (32, 2, True), (-29, -3, True),
    (-39, -1, True), (-24, -9, True), (31, -8, True), (-30, -12, True), (14, -15, True),
    (25, -12, True), (-16, -15, True), (34, 1, True, 11), (33, 2, True, 11), (33, 3, True, 11),
    (33, 3, True, 11), (35, 3, True, 11), (38, 1, True, 11),
]

# ---------------- layout geometry (pixels) ----------------
PANELS = [
    dict(px=(71, 505), py=(13, 690), xr=(-16, 14), yr=(-0.637, 16.61), xt=xticks_A, yt=yticks_A,
         rows=apex_rows + A_left_rows + A_right_rows, pts=A_points, lab=A_labeled, sty=A_label_style,
         title=(288, 33), xlab=(273, 743), ylab=(32, 338)),
    dict(px=(623, 1036), py=(9, 692), xr=(-14, 14), yr=(-0.475, 12.49), xt=xticks_B, yt=yticks_B,
         rows=apex_rows + B_left_rows + B_right_rows, pts=B_points, lab=B_labeled, sty=B_label_style,
         title=(830, 33), xlab=(815, 741), ylab=(573, 335)),
    dict(px=(77, 511), py=(797, 1475), xr=(-12, 18), yr=(-0.957, 25.0), xt=xticks_C, yt=yticks_C,
         rows=apex_rows + C_left_rows + C_right_rows, pts=C_points, lab=C_labeled, sty=C_label_style,
         title=(297, 812), xlab=(273, 1521), ylab=(25, 1140)),
    dict(px=(620, 1040), py=(795, 1472), xr=(-14, 18), yr=(-0.874, 22.84), xt=xticks_D, yt=yticks_D,
         rows=apex_rows + D_left_rows + D_right_rows, pts=D_points, lab=D_labeled, sty=D_label_style,
         title=(835, 812), xlab=(815, 1517), ylab=(566, 1150)),
]

# hand-drawn ellipses: (centre px x, centre px y, semi-major, semi-minor, angle deg)
ELLIPSES = [
    (125, 222, 52, 11, 80), (166, 318, 48, 23, 41), (428, 308, 46, 17, -12), (386.5, 365, 30, 16.5, 90),
    (931.5, 305, 40, 15, 70), (923.5, 405, 56.5, 28, -3), (891.5, 480, 28, 8.5, 90),
    (444, 941.5, 87, 38, -52),
    (655, 1130, 60, 29, 90), (943, 1110, 66, 64, 90),
]
LEGEND_BOX = (344, 60, 467, 186)
LEGEND_ROWS_Y = [74, 94, 113, 133, 153, 173]
LEGEND_TEXT_RIGHT = [462, 455, 450, 450, 458, 458]


def PX(x):
    return x / W


def PY(y):
    return 1 - y / H


def bin_color(x):
    for i, e in enumerate(BIN_EDGES):
        if x <= e:
            return BIN_COLORS[i]
    return BIN_COLORS[-1]


fig = go.Figure()
annotations = []
shapes = []

for i, p in enumerate(PANELS):
    sfx = "" if i == 0 else str(i + 1)
    xref, yref = "x" + sfx, "y" + sfx
    xs, ys = [], []
    for yv, xl in p["rows"]:
        for xv in xl:
            xs.append(xv)
            ys.append(yv)
    n_cloud = len(xs)
    for xv, yv in p["pts"]:
        xs.append(xv)
        ys.append(yv)
    for _, xv, yv in p["lab"]:
        xs.append(xv)
        ys.append(yv)
    cols = [bin_color(v) for v in xs]
    lw = [(1.0 if k < n_cloud else 0.8) if ys[k] < 3.0 else 0 for k in range(len(xs))]
    fig.add_trace(go.Scatter(
        x=xs, y=ys, mode="markers", xaxis=xref, yaxis=yref, showlegend=False, hoverinfo="skip",
        marker=dict(size=7, color=cols, line=dict(color="rgba(35,25,5,0.88)", width=lw))))

    # axes
    xa = dict(domain=[PX(p["px"][0]), PX(p["px"][1])], range=[p["xr"][0] - 0.02, p["xr"][1] + 0.02],
              anchor=yref, tickmode="array", tickvals=p["xt"], ticktext=[str(t) for t in p["xt"]],
              ticks="outside", ticklen=5, tickcolor="#777", showline=True, linecolor="#777",
              linewidth=1.2, mirror=(i != 3), showgrid=False, zeroline=False, automargin=False,
              tickfont=dict(size=10, color="#444", family=FONT), ticklabelstandoff=5)
    ya = dict(domain=[PY(p["py"][1]), PY(p["py"][0])], range=list(p["yr"]), anchor=xref,
              tickmode="array", tickvals=p["yt"], ticktext=[str(t) for t in p["yt"]],
              ticks="outside", ticklen=5, tickcolor="#777", showline=True, linecolor="#777",
              linewidth=1.2, mirror=True, showgrid=False, zeroline=False, automargin=False,
              tickangle=-90, tickfont=dict(size=10, color="#444", family=FONT), ticklabelstandoff=6)
    fig.layout["xaxis" + sfx] = xa
    fig.layout["yaxis" + sfx] = ya

    # significance threshold
    shapes.append(dict(type="line", xref=xref + " domain", yref=yref, x0=0, x1=1, y0=3, y1=3,
                       line=dict(color="#666", width=1.1)))

    # labels
    for (txt, xv, yv), st in zip(p["lab"], p["sty"]):
        dx, dy, arrow = st[0], st[1], st[2]
        fs = st[3] if len(st) > 3 else 12
        a = dict(x=xv, y=yv, xref=xref, yref=yref, text=txt, font=dict(size=fs, color="#222", family=FONT))
        if arrow:
            a.update(showarrow=True, ax=dx, ay=dy, arrowhead=0, arrowwidth=1.1, arrowcolor="#222",
                     standoff=2, borderpad=0)
        else:
            a.update(showarrow=False, xshift=dx, yshift=-dy, xanchor="center", yanchor="middle")
        annotations.append(a)

    # titles
    annotations.append(dict(x=PX(p["title"][0]), y=PY(p["title"][1]), xref="paper", yref="paper",
                            text=titles[i], showarrow=False, xanchor="center", yanchor="middle",
                            font=dict(size=25, color="#111", family=FONT)))
    annotations.append(dict(x=PX(p["xlab"][0]), y=PY(p["xlab"][1]), xref="paper", yref="paper",
                            text="logFC", showarrow=False, xanchor="center", yanchor="middle",
                            font=dict(size=29, color="#111", family=FONT)))
    annotations.append(dict(x=PX(p["ylab"][0]), y=PY(p["ylab"][1]), xref="paper", yref="paper",
                            text="-log10(FDR)", showarrow=False, xanchor="center", yanchor="middle",
                            textangle=-90, font=dict(size=29, color="#111", family=FONT)))

# partial top border of last panel
shapes.append(dict(type="line", xref="paper", yref="paper", x0=PX(877), x1=PX(1040), y0=PY(795), y1=PY(795),
                   line=dict(color="#777", width=1.2)))

# ellipses
for cx, cy, a, b, ang in ELLIPSES:
    th = math.radians(ang)
    pts = []
    for k in range(73):
        t = 2 * math.pi * k / 72
        ex = a * math.cos(t) * math.cos(th) - b * math.sin(t) * math.sin(th)
        ey = a * math.cos(t) * math.sin(th) + b * math.sin(t) * math.cos(th)
        pts.append((PX(cx + ex), PY(cy + ey)))
    path = "M " + " L ".join("%.5f,%.5f" % q for q in pts) + " Z"
    shapes.append(dict(type="path", xref="paper", yref="paper", path=path,
                       line=dict(color="#333", width=1)))

# legend of panel A
x0, y0, x1, y1 = LEGEND_BOX
shapes.append(dict(type="rect", xref="paper", yref="paper", x0=PX(x0), x1=PX(x1), y0=PY(y1), y1=PY(y0),
                   line=dict(color="#555", width=1), fillcolor="white"))
for yc, col, txt, xr_ in zip(LEGEND_ROWS_Y, LEGEND_COLORS, LEGEND_TEXT, LEGEND_TEXT_RIGHT):
    shapes.append(dict(type="rect", xref="paper", yref="paper", x0=PX(352), x1=PX(366),
                       y0=PY(yc + 7), y1=PY(yc - 7), line=dict(width=0), fillcolor=col))
    annotations.append(dict(x=PX(xr_), y=PY(yc), xref="paper", yref="paper", text=txt, showarrow=False,
                            xanchor="right", yanchor="middle", font=dict(size=15.5, color="#111", family=FONT)))

fig.update_layout(width=W, height=H, margin=dict(l=0, r=0, t=0, b=0), paper_bgcolor="white",
                  plot_bgcolor="white", showlegend=False, annotations=annotations, shapes=shapes,
                  font=dict(family=FONT))
fig.write_html("out.html", config={"displayModeBar": False},
               post_script="document.body.style.margin='0px';document.body.style.overflow='hidden';")
